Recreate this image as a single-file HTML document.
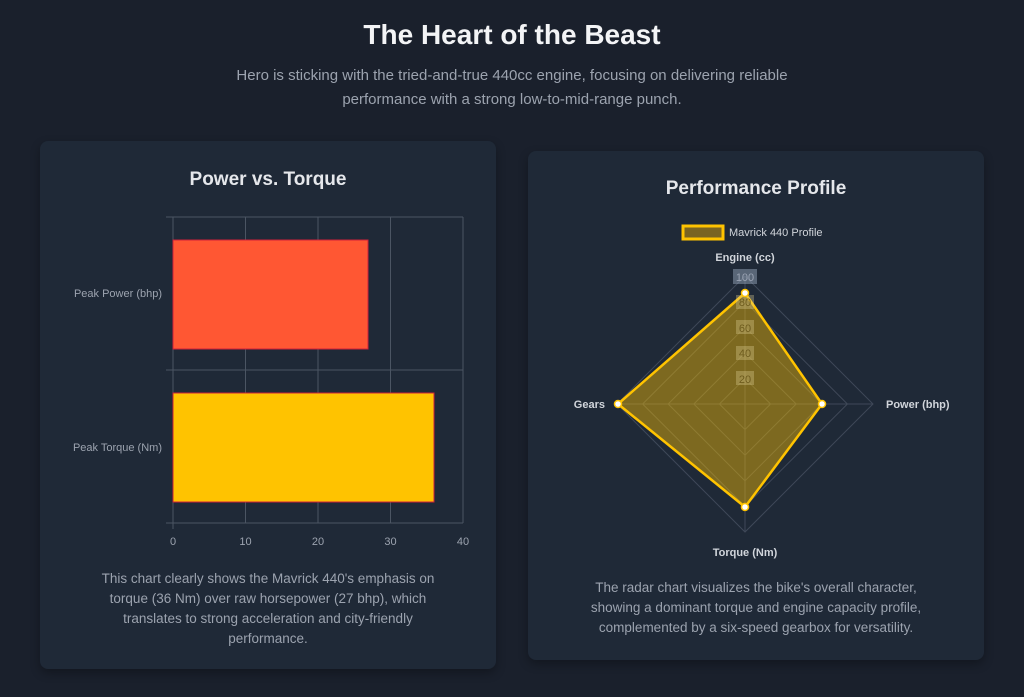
<!DOCTYPE html>
<html><head><meta charset="utf-8"><style>
body{margin:0;width:1024px;height:697px;background:#1a202c;font-family:"Liberation Sans",sans-serif;overflow:hidden;position:relative}
.h{position:absolute;left:0;width:1024px;text-align:center}
.card{position:absolute;background:#1f2937;border-radius:8px;box-shadow:0 4px 10px rgba(0,0,0,.3)}
.p{position:absolute;text-align:center;color:#9ca3af;font-size:13.5px;line-height:20px}
</style></head><body>
<div class="h" style="top:19px;font-size:28px;font-weight:bold;color:#f3f4f6">The Heart of the Beast</div>
<div class="h" style="top:64px;font-size:15px;line-height:24px;color:#9ca3af">Hero is sticking with the tried-and-true 440cc engine, focusing on delivering reliable<br>performance with a strong low-to-mid-range punch.</div>
<div class="card" style="left:40px;top:141px;width:456px;height:528px"></div>
<div class="card" style="left:528px;top:151px;width:456px;height:509px"></div>
<svg width="1024" height="697" style="position:absolute;left:0;top:0" font-family="Liberation Sans, sans-serif">
<text x="268" y="185" text-anchor="middle" font-size="19" font-weight="bold" fill="#e5e7eb">Power vs. Torque</text>
<g stroke="#4b5563" stroke-width="1">
<line x1="173" y1="217" x2="173" y2="529"/><line x1="245.5" y1="217" x2="245.5" y2="523"/><line x1="318" y1="217" x2="318" y2="523"/><line x1="390.5" y1="217" x2="390.5" y2="523"/><line x1="463" y1="217" x2="463" y2="523"/>
<line x1="166" y1="217" x2="463" y2="217"/><line x1="166" y1="370" x2="463" y2="370"/><line x1="166" y1="523" x2="463" y2="523"/>
</g>
<rect x="173" y="240" width="195" height="109" fill="#ff5733" stroke="#d0203a" stroke-width="1"/>
<rect x="173" y="393" width="261" height="109" fill="#ffc300" stroke="#d0203a" stroke-width="1"/>
<g font-size="11" fill="#9ca3af" text-anchor="end"><text x="162" y="297">Peak Power (bhp)</text><text x="162" y="451">Peak Torque (Nm)</text></g>
<g font-size="11" fill="#9ca3af" text-anchor="middle"><text x="173" y="545">0</text><text x="245.5" y="545">10</text><text x="318" y="545">20</text><text x="390.5" y="545">30</text><text x="463" y="545">40</text></g>

<text x="756" y="194" text-anchor="middle" font-size="19" font-weight="bold" fill="#e5e7eb">Performance Profile</text>
<rect x="683" y="226" width="40" height="13" fill="#7a6422" stroke="#ffc300" stroke-width="3"/>
<text x="729" y="236" font-size="11" fill="#d1d5db">Mavrick 440 Profile</text>
<g fill="none" stroke="#3f4858" stroke-width="1">
<polygon points="745,378.4 770.6,404 745,429.6 719.4,404"/>
<polygon points="745,352.8 796.2,404 745,455.2 693.8,404"/>
<polygon points="745,327.2 821.8,404 745,480.8 668.2,404"/>
<polygon points="745,301.6 847.4,404 745,506.4 642.6,404"/>
<polygon points="745,276 873,404 745,532 617,404"/>
<line x1="745" y1="404" x2="745" y2="276"/><line x1="745" y1="404" x2="873" y2="404"/><line x1="745" y1="404" x2="745" y2="532"/><line x1="745" y1="404" x2="617" y2="404"/>
</g>
<polygon points="745,293 822,404 745,507 618,404" fill="rgba(255,195,0,0.42)" stroke="#ffc300" stroke-width="2.5" stroke-linejoin="round"/>
<g font-size="11" fill="#6e5c1e" text-anchor="middle">
<rect x="733" y="269" width="24" height="15" fill="rgba(148,163,184,0.5)"/><text x="745" y="281" fill="#9aa3b3">100</text>
<rect x="736" y="295" width="18" height="14" fill="rgba(220,205,150,0.35)"/><text x="745" y="306">80</text>
<rect x="736" y="320" width="18" height="14" fill="rgba(220,205,150,0.35)"/><text x="745" y="332">60</text>
<rect x="736" y="346" width="18" height="14" fill="rgba(220,205,150,0.35)"/><text x="745" y="357">40</text>
<rect x="736" y="371" width="18" height="14" fill="rgba(220,205,150,0.35)"/><text x="745" y="383">20</text>
</g>
<g fill="#fff" stroke="#ffc300" stroke-width="1.5"><circle cx="745" cy="293" r="3.5"/><circle cx="822" cy="404" r="3.5"/><circle cx="745" cy="507" r="3.5"/><circle cx="618" cy="404" r="3.5"/></g>
<g font-size="11" fill="#d1d5db" font-weight="bold"><text x="745" y="261" text-anchor="middle">Engine (cc)</text><text x="886" y="408">Power (bhp)</text><text x="745" y="556" text-anchor="middle">Torque (Nm)</text><text x="605" y="408" text-anchor="end">Gears</text></g>
</svg>
<div class="p" style="left:60px;top:569px;width:416px">This chart clearly shows the Mavrick 440's emphasis on<br>torque (36 Nm) over raw horsepower (27 bhp), which<br>translates to strong acceleration and city-friendly<br>performance.</div>
<div class="p" style="left:548px;top:578px;width:416px">The radar chart visualizes the bike's overall character,<br>showing a dominant torque and engine capacity profile,<br>complemented by a six-speed gearbox for versatility.</div>
</body></html>
